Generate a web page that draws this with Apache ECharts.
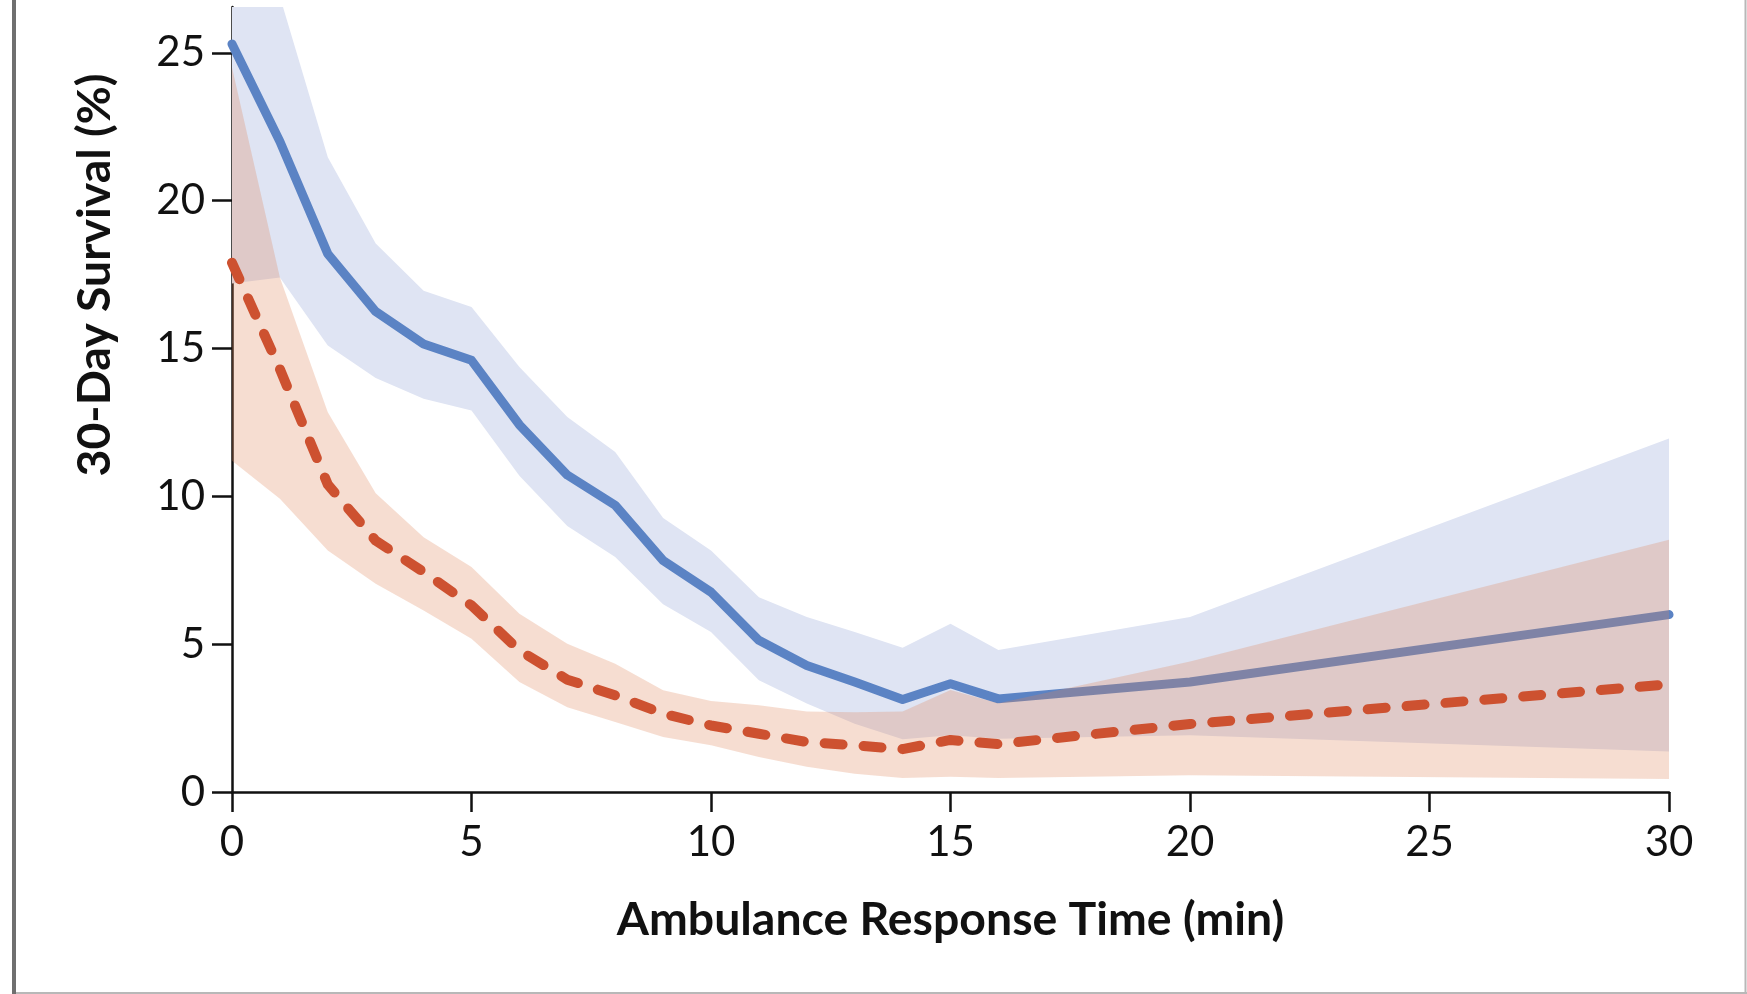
<!DOCTYPE html>
<html><head><meta charset="utf-8">
<script src="https://cdn.jsdelivr.net/npm/echarts@6/dist/echarts.min.js"></script>
<style>html,body{margin:0;padding:0;background:#fff}#c{width:1747px;height:994px}</style>
</head><body><div id="c"></div>
<script>
// Ambulance response time (min)
const minutes   = [0, 1, 2, 3, 4, 5, 6, 7, 8, 9, 10, 11, 12, 13, 14, 15, 16, 20, 30];
// Blue (solid) series: estimate and 95% CI
const blueMid   = [25.3, 22.0, 18.2, 16.25, 15.15, 14.6, 12.42, 10.72, 9.7, 7.83, 6.76, 5.13, 4.28, 3.72, 3.13, 3.66, 3.15, 3.72, 6.0];
const blueLow   = [17.2, 17.4, 15.1, 14.0, 13.3, 12.9, 10.7, 9.0, 7.95, 6.35, 5.41, 3.78, 2.99, 2.31, 1.78, 1.92, 1.8, 1.92, 1.37];
const blueHigh  = [31.0, 26.9, 21.47, 18.55, 16.95, 16.4, 14.37, 12.68, 11.5, 9.27, 8.17, 6.59, 5.92, 5.41, 4.88, 5.69, 4.8, 5.92, 11.96];
// Red (dashed) series: estimate and 95% CI
const redMid    = [17.9, 14.3, 10.4, 8.5, 7.44, 6.31, 4.79, 3.8, 3.27, 2.65, 2.25, 1.97, 1.69, 1.58, 1.45, 1.76, 1.62, 2.3, 3.64];
const redLow    = [11.2, 9.92, 8.17, 7.04, 6.14, 5.18, 3.72, 2.87, 2.37, 1.86, 1.58, 1.18, 0.85, 0.62, 0.47, 0.52, 0.47, 0.57, 0.44];
const redHigh   = [24.5, 17.4, 12.84, 10.1, 8.62, 7.61, 6.03, 5.01, 4.34, 3.44, 3.08, 2.93, 2.72, 2.7, 2.72, 3.45, 3.0, 4.41, 8.53];
// Axis ticks and titles
const xTicks = [0, 5, 10, 15, 20, 25, 30];
const yTicks = [0, 5, 10, 15, 20, 25];
const xTitle = 'Ambulance Response Time (min)';
const yTitle = '30-Day Survival (%)';

const pairs = arr => arr.map((v, i) => [minutes[i], v]);

const LABEL_FONT = "Lato, 'DejaVu Sans Condensed', sans-serif";
const TITLE_FONT = "Lato, 'Liberation Sans', sans-serif";
const INK = '#111';

// font size so that the x title spans the same width as in the reference
function fitSize(text, weight, family, targetWidth) {
  const ctx = document.createElement('canvas').getContext('2d');
  ctx.font = weight + ' 100px ' + family;
  return 100 * targetWidth / ctx.measureText(text).width;
}
const titleSize = fitSize(xTitle, 'bold', TITLE_FONT, 667);

const chart = echarts.init(document.getElementById('c'), null, {renderer: 'canvas'});

const axisLine = {show: true, onZero: false, lineStyle: {color: INK, width: 2.5}};
const tickStyle = {color: INK, width: 2.5};

function band(lo, hi, fill, z) {
  return {
    type: 'custom', z: z, silent: true, data: [0],
    renderItem: function (params, api) {
      const pts = [];
      for (let i = 0; i < minutes.length; i++) pts.push(api.coord([minutes[i], hi[i]]));
      for (let i = minutes.length - 1; i >= 0; i--) pts.push(api.coord([minutes[i], lo[i]]));
      const cs = params.coordSys;
      return {
        type: 'polygon', shape: {points: pts}, style: {fill: fill},
        clipPath: {type: 'rect', shape: {x: cs.x, y: cs.y, width: cs.width, height: cs.height}}
      };
    }
  };
}

chart.setOption({
  animation: false,
  backgroundColor: '#fff',
  grid: {left: 232, top: 7, width: 1437, height: 785, outerBoundsMode: 'none', containLabel: false},
  xAxis: {
    type: 'value', min: 0, max: 30, interval: 5, splitLine: {show: false}, axisLine: axisLine,
    axisTick: {show: true, length: 20, lineStyle: tickStyle, customValues: xTicks},
    axisLabel: {customValues: xTicks, margin: 29, fontFamily: LABEL_FONT, fontSize: 42, lineHeight: 42, color: INK}
  },
  yAxis: {
    type: 'value', min: 0, max: 26.55, interval: 5, splitLine: {show: false}, axisLine: axisLine,
    axisTick: {show: true, length: 20, lineStyle: tickStyle, customValues: yTicks},
    axisLabel: {customValues: yTicks, margin: 27, fontFamily: LABEL_FONT, fontSize: 42, color: INK}
  },
  series: [
    band(blueLow, blueHigh, '#dfe4f3', 2),
    {type: 'line', data: pairs(blueMid), symbol: 'none', showSymbol: false, z: 3, silent: true,
     lineStyle: {color: '#5b83c4', width: 9, cap: 'round', join: 'round'}},
    band(redLow, redHigh, 'rgba(223,134,91,0.28)', 4),
    {type: 'line', data: pairs(redMid), symbol: 'none', showSymbol: false, z: 5, silent: true,
     lineStyle: {color: '#cd5130', width: 10, type: [18, 21], cap: 'round', join: 'round'}}
  ],
  graphic: [
    {type: 'rect', shape: {x: 12, y: 0, width: 4, height: 994}, style: {fill: '#6f6f6f'}, silent: true},
    {type: 'line', shape: {x1: 16, y1: 993, x2: 1747, y2: 993}, style: {stroke: '#b8b8b8', lineWidth: 2}, silent: true},
    {type: 'line', shape: {x1: 1745.5, y1: 0, x2: 1745.5, y2: 994}, style: {stroke: '#b8b8b8', lineWidth: 2}, silent: true},
    {type: 'text', x: 950.5, y: 920, silent: true,
     style: {text: xTitle, font: 'bold ' + titleSize.toFixed(1) + 'px ' + TITLE_FONT, fill: INK, align: 'center', verticalAlign: 'middle'}},
    {type: 'text', x: 95, y: 275, rotation: Math.PI / 2, silent: true,
     style: {text: yTitle, font: 'bold ' + titleSize.toFixed(1) + 'px ' + TITLE_FONT, fill: INK, align: 'center', verticalAlign: 'middle'}}
  ]
});
</script></body></html>
